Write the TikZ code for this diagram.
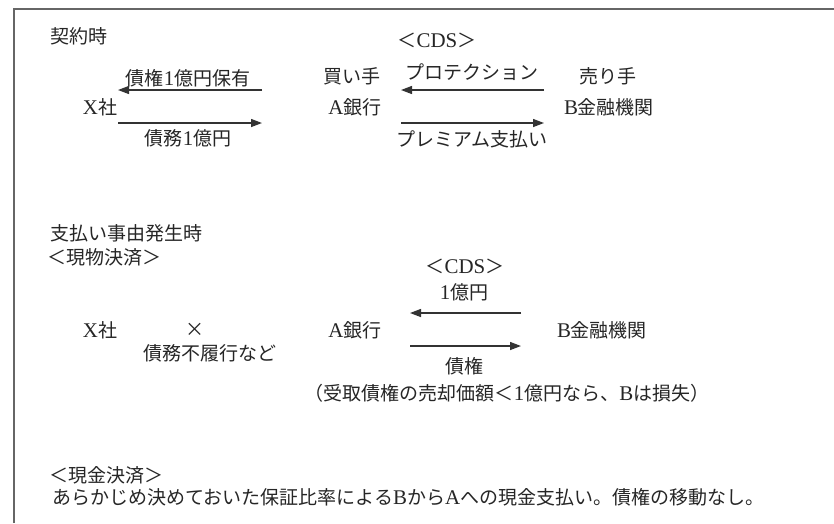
\documentclass[tikz,border=0pt]{standalone}
\usepackage{fontspec}
\setmainfont{Liberation Serif}[Scale=1.1]
\newfontfamily\jp{Noto Sans CJK JP}
\usetikzlibrary{arrows.meta}
\newcommand\lt[1]{{\rmfamily #1}}
\tikzset{
  txt/.style={inner sep=0pt, font=\fontsize{19}{22}\selectfont\jp, text=black!85},
  lefttxt/.style={txt, anchor=west},
  flow/.style={line width=1.3pt, draw=black!80, -{Triangle[length=11pt,width=8pt]}},
  frame/.style={line width=1.4pt, draw=black!60}
}
\begin{document}
\begin{tikzpicture}[x=1pt,y=-1pt]
\useasboundingbox (0,0) rectangle (834,523);
\fill[white] (0,0) rectangle (834,523);
\draw[frame] (14,523) -- (14,9) -- (834,9);
% top section
\node[lefttxt] (t1) at (50,36) {契約時};
\node[txt] (cds1) at (437,40) {＜\lt{CDS}＞};
\node[txt] (l1) at (188,78) {債権\lt{1}億円保有};
\node[txt] (buy) at (352,76) {買い手};
\node[txt] (prot) at (472,72) {プロテクション};
\node[txt] (sell) at (608,76) {売り手};
\node[txt] (x1) at (100,107) {\lt{X}社};
\node[txt] (a1) at (355,107) {\lt{A}銀行};
\node[txt] (b1) at (609,107) {\lt{B}金融機関};
\node[txt] (l2) at (188,138) {債務\lt{1}億円};
\node[txt] (prem) at (472,139) {プレミアム支払い};
\coordinate (p1s) at (262,90); \coordinate (p1e) at (118,90);
\coordinate (p2s) at (118,123); \coordinate (p2e) at (262,123);
\coordinate (p3s) at (544,90); \coordinate (p3e) at (401,90);
\coordinate (p4s) at (401,123); \coordinate (p4e) at (544,123);
\draw[flow] (p1s) -- (p1e);
\draw[flow] (p2s) -- (p2e);
\draw[flow] (p3s) -- (p3e);
\draw[flow] (p4s) -- (p4e);
% lower section
\node[lefttxt] (t2) at (50,233) {支払い事由発生時};
\node[lefttxt] (t3) at (47,257) {＜現物決済＞};
\node[txt] (cds2) at (465,266) {＜\lt{CDS}＞};
\node[txt] (yen) at (464,292) {\lt{1}億円};
\node[txt] (x2) at (100,330) {\lt{X}社};
\node[txt] (cross) at (195,330) {×};
\node[txt] (a2) at (355,330) {\lt{A}銀行};
\node[txt] (b2) at (602,330) {\lt{B}金融機関};
\node[txt] (def) at (210,353) {債務不履行など};
\node[txt] (bond) at (464,366) {債権};
\node[txt] (note) at (507,393) {（受取債権の売却価額＜\lt{1}億円なら、\lt{B}は損失）};
\coordinate (q1s) at (521,313); \coordinate (q1e) at (410,313);
\coordinate (q2s) at (410,346); \coordinate (q2e) at (521,346);
\draw[flow] (q1s) -- (q1e);
\draw[flow] (q2s) -- (q2e);
\node[lefttxt] (t4) at (49,475) {＜現金決済＞};
\node[lefttxt] (t5) at (52,497) {あらかじめ決めておいた保証比率による\lt{B}から\lt{A}への現金支払い。債権の移動なし。};
\end{tikzpicture}
\end{document}
